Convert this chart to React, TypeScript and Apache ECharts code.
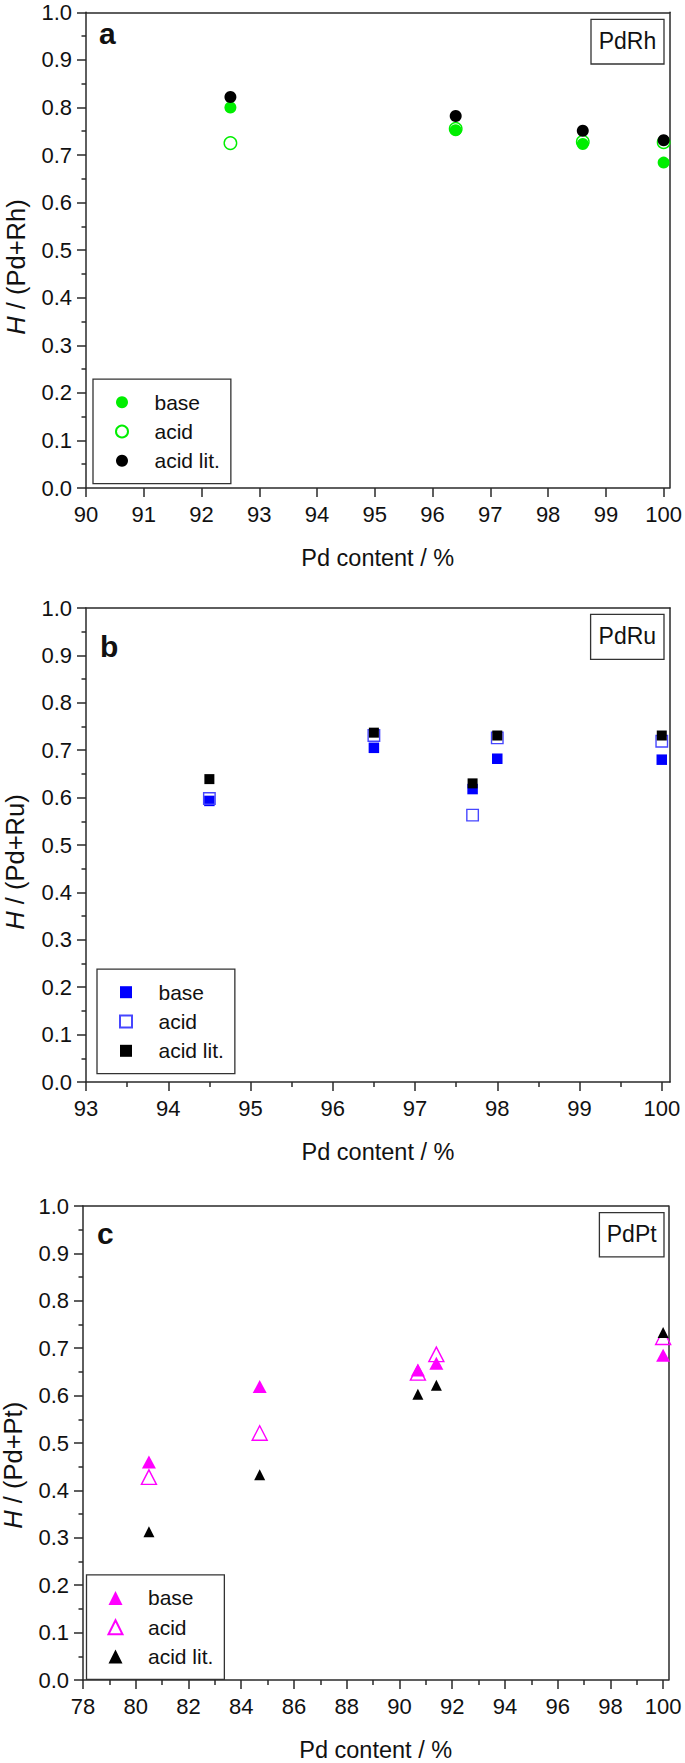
import React, { useEffect, useRef } from "react";
import * as echarts from "echarts";

// ---------- data ----------
const seriesNames = ["base", "acid", "acid lit."];

// Panel a: PdRh
const rhX = [92.5, 96.4, 98.6, 100];
const rhBase = [0.8, 0.752, 0.723, 0.684];
const rhAcid = [0.725, 0.755, 0.728, 0.727];
const rhLit = [0.822, 0.782, 0.751, 0.731];
const rhMajor = [90, 91, 92, 93, 94, 95, 96, 97, 98, 99, 100];
const rhMinor: number[] = [];

// Panel b: PdRu
const ruX = [94.5, 96.5, 97.7, 98.0, 100];
const ruBase = [0.593, 0.705, 0.618, 0.682, 0.68];
const ruAcid = [0.598, 0.731, 0.563, 0.726, 0.719];
const ruLit = [0.639, 0.737, 0.63, 0.731, 0.731];
const ruMajor = [93, 94, 95, 96, 97, 98, 99, 100];
const ruMinor = [93.5, 94.5, 95.5, 96.5, 97.5, 98.5, 99.5];

// Panel c: PdPt
const ptX = [80.5, 84.7, 90.7, 91.4, 100];
const ptBase = [0.46, 0.619, 0.654, 0.668, 0.685];
const ptAcid = [0.428, 0.521, 0.648, 0.687, 0.723];
const ptLit = [0.313, 0.433, 0.603, 0.622, 0.733];
const ptMajor = [78, 80, 82, 84, 86, 88, 90, 92, 94, 96, 98, 100];
const ptMinor = [79, 81, 83, 85, 87, 89, 91, 93, 95, 97, 99];

const yTitleItalic = "H";
const yTitles = [" / (Pd+Rh)", " / (Pd+Ru)", " / (Pd+Pt)"];
const alloyLabels = ["PdRh", "PdRu", "PdPt"];
const panelLetters = ["a", "b", "c"];
const xTitle = "Pd content / %";

// ---------- styling ----------
const FONT = "'Liberation Sans', Arial, Helvetica, sans-serif";
const AX = "#2a2a2a";
const TXT = "#111";
const GREEN = "#00ee00";
const BLUE = "#0000ff";
const MAGENTA = "#ff00ff";
const Y_TITLE_SIZE = 25.5;

const zip = (xs: number[], ys: number[]) => xs.map((x, i) => [x, ys[i]]);

type Panel = {
  key: string;
  grid: { left: number; top: number; width: number; height: number };
  xMin: number;
  xMax: number;
  major: number[];
  minor: number[];
  xs: number[];
  base: number[];
  acid: number[];
  lit: number[];
  symbol: string;
  color: string;
  acidBorder: string;
  sizes: { base: any; acid: any; lit: any };
  legend: { left: number; top: number; icon: number };
  letter: { x: number; y: number };
  box: { x: number; y: number; w: number; h: number };
  yTitle: { x: number; y: number };
};

const panels: Panel[] = [
  {
    key: "a",
    grid: { left: 86, top: 12.3, width: 584, height: 475.7 },
    xMin: 90,
    xMax: 100.1,
    major: rhMajor,
    minor: rhMinor,
    xs: rhX,
    base: rhBase,
    acid: rhAcid,
    lit: rhLit,
    symbol: "circle",
    color: GREEN,
    acidBorder: GREEN,
    sizes: { base: 12, acid: 12.5, lit: 12 },
    legend: { left: 93, top: 379.2, icon: 12 },
    letter: { x: 99, y: 33.2 },
    box: { x: 591, y: 19.3, w: 73, h: 44.7 },
    yTitle: { x: 15.5, y: 267 },
  },
  {
    key: "b",
    grid: { left: 86, top: 608, width: 584, height: 474 },
    xMin: 93,
    xMax: 100.1,
    major: ruMajor,
    minor: ruMinor,
    xs: ruX,
    base: ruBase,
    acid: ruAcid,
    lit: ruLit,
    symbol: "rect",
    color: BLUE,
    acidBorder: "#4646ff",
    sizes: { base: 10.5, acid: 11.5, lit: 10 },
    legend: { left: 97, top: 969.2, icon: 12 },
    letter: { x: 100, y: 646.5 },
    box: { x: 590.6, y: 614.4, w: 73.4, h: 45 },
    yTitle: { x: 15.3, y: 862 },
  },
  {
    key: "c",
    grid: { left: 83, top: 1206, width: 585.4, height: 476.5 },
    xMin: 78,
    xMax: 100.2,
    major: ptMajor,
    minor: ptMinor,
    xs: ptX,
    base: ptBase,
    acid: ptAcid,
    lit: ptLit,
    symbol: "triangle",
    color: MAGENTA,
    acidBorder: MAGENTA,
    sizes: { base: [14, 13], acid: [15, 14.5], lit: [11, 11] },
    legend: { left: 86.5, top: 1574.9, icon: 14 },
    letter: { x: 97, y: 1233.6 },
    box: { x: 599.4, y: 1212.6, w: 64.6, h: 44.3 },
    yTitle: { x: 13, y: 1461 },
  },
];

function buildOption() {
  const grid: any[] = [];
  const xAxis: any[] = [];
  const yAxis: any[] = [];
  const series: any[] = [];
  const legend: any[] = [];
  const graphic: any[] = [];

  const lineStyle = { color: AX, width: 1.5 };

  // widths (em) for splitting the rotated y title into italic + upright parts
  const hWidth = 0.722 * Y_TITLE_SIZE;
  const restWidth = (5.307 - 0.722) * Y_TITLE_SIZE;
  const totalWidth = hWidth + restWidth;

  panels.forEach((p, gi) => {
    grid.push({ ...p.grid, containLabel: false });

    const mainX = xAxis.length;
    xAxis.push({
      gridIndex: gi,
      type: "value",
      position: "bottom",
      min: p.xMin,
      max: p.xMax,
      axisLine: { show: true, onZero: false, lineStyle },
      axisTick: { show: true, length: 9, customValues: p.major, lineStyle },
      axisLabel: {
        customValues: p.major,
        margin: 15.5,
        fontSize: 22,
        color: TXT,
        fontFamily: FONT,
      },
      splitLine: { show: false },
      name: xTitle,
      nameLocation: "middle",
      nameGap: 58,
      nameTextStyle: { fontSize: 23.5, color: TXT, fontFamily: FONT },
    });
    if (p.minor.length) {
      xAxis.push({
        gridIndex: gi,
        type: "value",
        position: "bottom",
        min: p.xMin,
        max: p.xMax,
        axisLine: { show: false, onZero: false },
        axisTick: { show: true, length: 5, customValues: p.minor, lineStyle },
        axisLabel: { show: false },
        splitLine: { show: false },
      });
    }
    xAxis.push({
      gridIndex: gi,
      type: "value",
      position: "top",
      min: p.xMin,
      max: p.xMax,
      axisLine: { show: true, onZero: false, lineStyle },
      axisTick: { show: false },
      axisLabel: { show: false },
      splitLine: { show: false },
    });

    const mainY = yAxis.length;
    yAxis.push({
      gridIndex: gi,
      type: "value",
      position: "left",
      min: 0,
      max: 1,
      interval: 0.1,
      axisLine: { show: true, onZero: false, lineStyle },
      axisTick: { show: true, length: 9, lineStyle },
      minorTick: { show: true, splitNumber: 2, length: 4.5, lineStyle },
      axisLabel: {
        formatter: (v: number) => v.toFixed(1),
        margin: 14,
        fontSize: 22,
        color: TXT,
        fontFamily: FONT,
      },
      splitLine: { show: false },
      minorSplitLine: { show: false },
    });
    yAxis.push({
      gridIndex: gi,
      type: "value",
      position: "right",
      min: 0,
      max: 1,
      axisLine: { show: true, onZero: false, lineStyle },
      axisTick: { show: false },
      axisLabel: { show: false },
      splitLine: { show: false },
    });

    const names = seriesNames.map((n) => `${p.key}:${n}`);
    const common = {
      type: "scatter",
      xAxisIndex: mainX,
      yAxisIndex: mainY,
      symbol: p.symbol,
      symbolKeepAspect: false,
      emphasis: { disabled: true },
      silent: true,
    };
    series.push({
      ...common,
      name: names[0],
      data: zip(p.xs, p.base),
      symbolSize: p.sizes.base,
      itemStyle: { color: p.color, opacity: 1 },
    });
    series.push({
      ...common,
      name: names[1],
      data: zip(p.xs, p.acid),
      symbolSize: p.sizes.acid,
      itemStyle: {
        color: "rgba(255,255,255,0)",
        borderColor: p.acidBorder,
        borderWidth: 1.4,
        opacity: 1,
      },
    });
    series.push({
      ...common,
      name: names[2],
      data: zip(p.xs, p.lit),
      symbolSize: p.sizes.lit,
      itemStyle: { color: "#000", opacity: 1 },
    });

    const ic = p.legend.icon;
    const padLeft = 28 - ic / 2;
    const textPad = 60.5 - padLeft - ic - 5;
    legend.push({
      data: names,
      orient: "vertical",
      left: p.legend.left,
      top: p.legend.top,
      itemWidth: ic,
      itemHeight: ic,
      itemGap: 8.3,
      selectedMode: false,
      padding: [12.5, 11, 12.4, padLeft],
      borderColor: "#333",
      borderWidth: 1.3,
      formatter: (name: string) => name.slice(2),
      textStyle: {
        fontSize: 21,
        lineHeight: 20,
        color: TXT,
        fontFamily: FONT,
        padding: [0, 0, 0, textPad],
      },
    });

    graphic.push({
      type: "text",
      x: p.letter.x,
      y: p.letter.y,
      silent: true,
      style: {
        text: panelLetters[gi],
        fontSize: 30,
        fontWeight: "bold",
        fontFamily: FONT,
        fill: TXT,
        verticalAlign: "middle",
        align: "left",
      },
    });
    graphic.push({
      type: "rect",
      silent: true,
      shape: { x: p.box.x, y: p.box.y, width: p.box.w, height: p.box.h },
      style: { fill: "none", stroke: "#333", lineWidth: 1.3 },
    });
    graphic.push({
      type: "text",
      silent: true,
      x: p.box.x + p.box.w / 2,
      y: p.box.y + p.box.h / 2 - 0.8,
      style: {
        text: alloyLabels[gi],
        fontSize: 23,
        fontFamily: FONT,
        fill: TXT,
        align: "center",
        verticalAlign: "middle",
      },
    });
    // rotated y title: italic H below the split point, rest above it
    const split = p.yTitle.y + totalWidth / 2 - hWidth;
    graphic.push({
      type: "text",
      silent: true,
      x: p.yTitle.x,
      y: split,
      rotation: Math.PI / 2,
      style: {
        text: yTitleItalic,
        align: "right",
        verticalAlign: "middle",
        fontSize: Y_TITLE_SIZE,
        fontStyle: "italic",
        fontFamily: FONT,
        fill: TXT,
      },
    });
    graphic.push({
      type: "text",
      silent: true,
      x: p.yTitle.x,
      y: split,
      rotation: Math.PI / 2,
      style: {
        text: yTitles[gi],
        align: "left",
        verticalAlign: "middle",
        fontSize: Y_TITLE_SIZE,
        fontFamily: FONT,
        fill: TXT,
      },
    });
  });

  return {
    animation: false,
    backgroundColor: "#fff",
    grid,
    xAxis,
    yAxis,
    series,
    legend,
    graphic,
  };
}

export default function App() {
  const ref = useRef<HTMLDivElement>(null);
  useEffect(() => {
    document.body.style.margin = "0";
    if (!ref.current) return;
    const chart = echarts.init(ref.current, undefined, { renderer: "svg" });
    chart.setOption(buildOption() as any);
    return () => chart.dispose();
  }, []);
  return <div ref={ref} style={{ width: 685, height: 1763, background: "#fff" }} />;
}
